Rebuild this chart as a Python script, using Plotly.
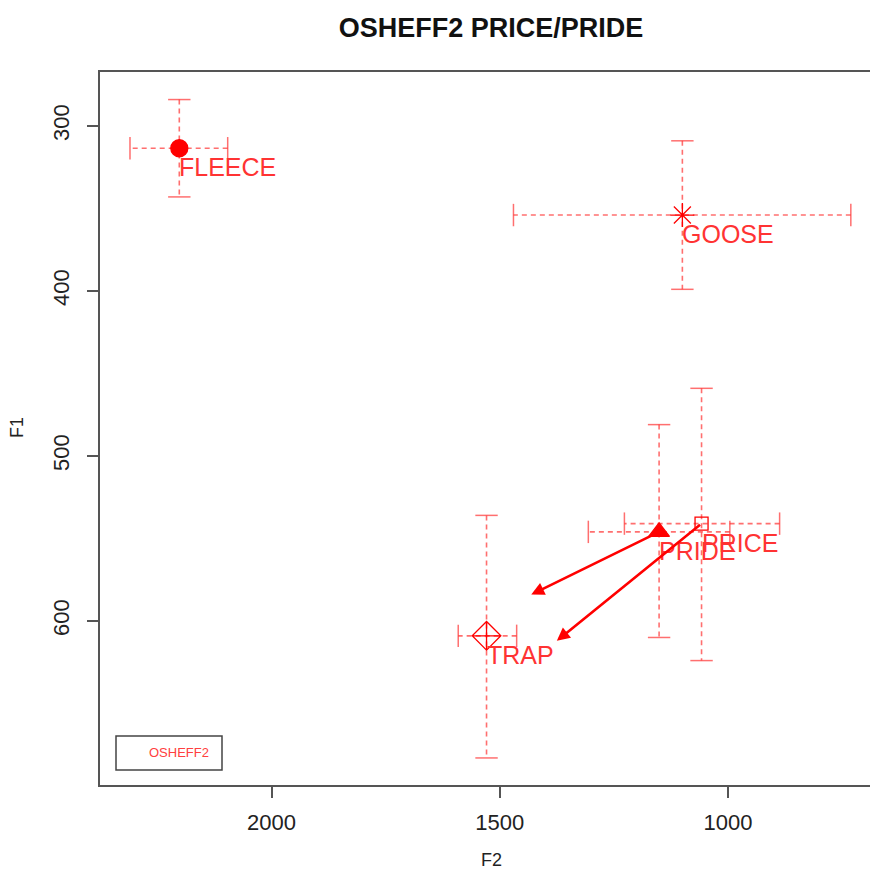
import plotly.graph_objects as go

# ---- data ----
words = ["FLEECE", "GOOSE", "PRIDE", "PRICE", "TRAP"]
f2 = [2202, 1100, 1151, 1058, 1529]
f1 = [313.5, 354, 546, 541, 609]
f2_lo = [2096, 731, 996, 887, 1463]
f2_hi = [2310, 1470, 1306, 1227, 1591]
f1_lo = [284, 309, 481, 459, 536]
f1_hi = [343, 399, 610, 624, 683]
symbols = ["circle", "asterisk-open", "triangle-up", "square-open", "diamond-cross-open"]
sizes = [17, 20, 18, 13, 22]

arrow_from = ["PRIDE", "PRICE"]
arrow_to_f2 = [1431, 1375]
arrow_to_f1 = [584, 612]

x_ticks = [2000, 1500, 1000]
y_ticks = [300, 400, 500, 600]
x_range = [2375.7, 689]
y_range = [699.4, 267.3]

RED = "#ff0000"
ERR = "rgba(255,50,50,0.7)"
FONT = "Liberation Sans, Arial, sans-serif"

fig = go.Figure()

# error bars (dashed)
for i in range(len(words)):
    fig.add_trace(go.Scatter(x=[f2_lo[i], f2_hi[i]], y=[f1[i], f1[i]], mode="lines",
                             line=dict(color=ERR, width=1.6, dash="5px,4px"),
                             showlegend=False, hoverinfo="skip"))
    fig.add_trace(go.Scatter(x=[f2[i], f2[i]], y=[f1_lo[i], f1_hi[i]], mode="lines",
                             line=dict(color=ERR, width=1.6, dash="5px,4px"),
                             showlegend=False, hoverinfo="skip"))
# caps
cap_h_x = f2_lo + f2_hi
cap_h_y = f1 + f1
fig.add_trace(go.Scatter(x=cap_h_x, y=cap_h_y, mode="markers",
                         marker=dict(symbol="line-ns-open", size=16, color=ERR,
                                     line=dict(color=ERR, width=1.5)),
                         showlegend=False, hoverinfo="skip"))
cap_v_x = f2 + f2
cap_v_y = f1_lo + f1_hi
fig.add_trace(go.Scatter(x=cap_v_x, y=cap_v_y, mode="markers",
                         marker=dict(symbol="line-ew-open", size=16, color=ERR,
                                     line=dict(color=ERR, width=1.5)),
                         showlegend=False, hoverinfo="skip"))

# points
for i in range(len(words)):
    fig.add_trace(go.Scatter(x=[f2[i]], y=[f1[i]], mode="markers",
                             marker=dict(symbol=symbols[i], size=sizes[i], color=RED,
                                         line=dict(color=RED, width=1.3)),
                             showlegend=False, name=words[i]))

annotations = []
for i in range(len(words)):
    annotations.append(dict(x=f2[i], y=f1[i], xref="x", yref="y", text=words[i],
                            showarrow=False, xanchor="left", yanchor="middle",
                            xshift=-2, yshift=-19,
                            font=dict(family=FONT, size=25, color="#ff3333")))

# arrows
for name, tx, ty in zip(arrow_from, arrow_to_f2, arrow_to_f1):
    i = words.index(name)
    annotations.append(dict(x=tx, y=ty, xref="x", yref="y", ax=f2[i], ay=f1[i],
                            axref="x", ayref="y", showarrow=True, text="",
                            arrowhead=2, arrowsize=1.0, arrowwidth=2.6,
                            arrowcolor=RED, standoff=0, startstandoff=0))

W, H = 870, 872
L, R, T, B = 100, 0, 72, 87
pw, ph = W - L - R, H - T - B


def px(xp):
    return (xp - L) / pw


def py(yp):
    return (H - B - yp) / ph


# axis titles
annotations.append(dict(x=px(491), y=py(860), xref="paper", yref="paper", text="F2",
                        showarrow=False, xanchor="center", yanchor="middle",
                        font=dict(family=FONT, size=18, color="#222")))
annotations.append(dict(x=px(17), y=py(428), xref="paper", yref="paper", text="F1",
                        showarrow=False, xanchor="center", yanchor="middle", textangle=-90,
                        font=dict(family=FONT, size=18, color="#222")))
# legend text
annotations.append(dict(x=px(179), y=py(752), xref="paper", yref="paper", text="OSHEFF2",
                        showarrow=False, xanchor="center", yanchor="middle",
                        font=dict(family=FONT, size=13, color="#ff4040")))

shapes = [dict(type="rect", xref="paper", yref="paper",
               x0=px(116), x1=px(222), y0=py(770), y1=py(736),
               line=dict(color="#444", width=1.5), fillcolor="rgba(0,0,0,0)")]

fig.update_layout(
    width=W, height=H,
    margin=dict(l=L, r=R, t=T, b=B),
    plot_bgcolor="white", paper_bgcolor="white",
    font=dict(family=FONT, color="#222"),
    title=dict(text="<b>OSHEFF2 PRICE/PRIDE</b>", x=491 / W, y=1 - 28 / H,
               xanchor="center", yanchor="middle",
               font=dict(family=FONT, size=27, color="#111")),
    xaxis=dict(range=x_range, tickvals=x_ticks, ticktext=[str(v) for v in x_ticks],
               showgrid=False, zeroline=False, showline=True, mirror=True,
               linecolor="#555", linewidth=1.5, ticks="outside", ticklen=11,
               tickcolor="#555", tickwidth=1.5, ticklabelstandoff=6,
               tickfont=dict(family=FONT, size=22, color="#222")),
    yaxis=dict(range=y_range, tickvals=y_ticks, ticktext=[str(v) for v in y_ticks],
               showgrid=False, zeroline=False, showline=True, mirror=False,
               linecolor="#555", linewidth=1.5, ticks="outside", ticklen=11,
               tickcolor="#555", tickwidth=1.5, tickangle=-90, ticklabelstandoff=9,
               tickfont=dict(family=FONT, size=22, color="#222")),
    annotations=annotations,
    shapes=shapes,
)

fig.write_html("out.html")
